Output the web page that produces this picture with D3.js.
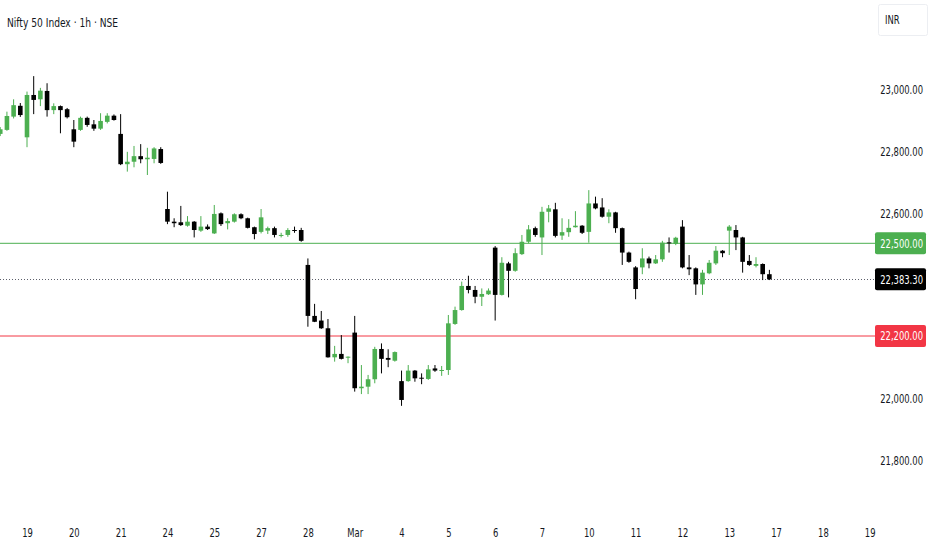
<!DOCTYPE html>
<html>
<head>
<meta charset="utf-8">
<script src="https://cdn.jsdelivr.net/npm/d3@7"></script>
<style>
  body { margin: 0; background: #fff; }
  svg text { font-family: "Liberation Sans Narrow", "Arial Narrow", "DejaVu Sans Condensed", "Liberation Sans", sans-serif; }
</style>
</head>
<body>
<div id="chart"></div>
<script>
// --- data: 1h candles, last 4 bars of 18 Feb then 7 bars per session ---
const open = [
  22854, 22867, 22910, 22945,                      // 18 Feb (tail)
  22843, 22980, 22966, 22993, 22931, 22944, 22934, // 19
  22869, 22867, 22906, 22885, 22871, 22893, 22913, // 20
  22854, 22756, 22764, 22782, 22772, 22773, 22805, // 21
  22611, 22570, 22568, 22557, 22570, 22541, 22554, // 24
  22532, 22597, 22565, 22570, 22594, 22581, 22552, // 25
  22537, 22541, 22549, 22524, 22527, 22543, 22543, // 27
  22430, 22265, 22250, 22225, 22131, 22142, 22131, // 28
  22211, 22031, 22036, 22060, 22158, 22129, 22120, // Mar 3
  22054, 22054, 22088, 22065, 22061, 22095, 22087, // 4
  22090, 22239, 22284, 22362, 22349, 22327, 22335, // 5
  22486, 22333, 22435, 22411, 22465, 22505, 22549, // 6
  22519, 22602, 22610, 22525, 22536, 22552, 22557, // 7
  22537, 22629, 22616, 22586, 22600, 22549, 22470, // 10
  22422, 22422, 22451, 22435, 22448, 22503, 22498, // 11
  22554, 22422, 22419, 22367, 22403, 22435, 22476, // 12
  22541, 22543, 22519, 22443, 22427, 22433, 22400  // 13
];
const high = [
  22876, 22926, 22966, 22954,
  22991, 23041, 23003, 23018, 22953, 22946, 22938,
  22899, 22910, 22910, 22899, 22921, 22921, 22917,
  22918, 22796, 22815, 22821, 22809, 22811, 22811,
  22667, 22581, 22621, 22588, 22572, 22588, 22561,
  22624, 22600, 22581, 22597, 22597, 22583, 22554,
  22611, 22554, 22554, 22534, 22549, 22554, 22550,
  22451, 22304, 22281, 22255, 22168, 22203, 22134,
  22265, 22106, 22074, 22165, 22176, 22157, 22150,
  22088, 22106, 22090, 22079, 22106, 22106, 22103,
  22268, 22295, 22376, 22395, 22362, 22354, 22354,
  22491, 22455, 22440, 22484, 22527, 22559, 22554,
  22618, 22624, 22631, 22581, 22578, 22604, 22559,
  22672, 22651, 22646, 22610, 22602, 22551, 22473,
  22426, 22484, 22457, 22462, 22508, 22519, 22521,
  22575, 22462, 22422, 22414, 22446, 22491, 22478,
  22559, 22559, 22521, 22462, 22455, 22435, 22414
];
const low = [
  22847, 22864, 22904, 22909,
  22811, 22918, 22944, 22910, 22918, 22856, 22904,
  22811, 22864, 22877, 22864, 22867, 22888, 22897,
  22753, 22732, 22746, 22759, 22721, 22759, 22757,
  22562, 22552, 22556, 22554, 22519, 22537, 22543,
  22530, 22556, 22545, 22567, 22578, 22548, 22513,
  22532, 22530, 22519, 22519, 22521, 22534, 22505,
  22230, 22245, 22223, 22130, 22117, 22124, 22112,
  22020, 22012, 22012, 22047, 22079, 22099, 22117,
  21974, 22052, 22052, 22044, 22058, 22084, 22071,
  22074, 22236, 22282, 22338, 22306, 22297, 22333,
  22250, 22331, 22325, 22408, 22462, 22500, 22521,
  22462, 22568, 22519, 22511, 22521, 22551, 22530,
  22502, 22610, 22583, 22565, 22534, 22430, 22437,
  22319, 22400, 22419, 22433, 22440, 22470, 22494,
  22419, 22397, 22333, 22333, 22400, 22430, 22455,
  22462, 22478, 22405, 22427, 22422, 22381, 22381
];
const close = [
  22869, 22912, 22947, 22915,
  22980, 22964, 22994, 22931, 22944, 22931, 22908,
  22829, 22906, 22883, 22871, 22896, 22913, 22899,
  22756, 22764, 22782, 22772, 22777, 22807, 22760,
  22570, 22565, 22559, 22570, 22543, 22554, 22546,
  22595, 22562, 22572, 22594, 22581, 22550, 22530,
  22584, 22549, 22527, 22527, 22543, 22540, 22508,
  22265, 22246, 22225, 22131, 22142, 22126, 22133,
  22031, 22036, 22060, 22158, 22126, 22123, 22148,
  21993, 22088, 22063, 22062, 22092, 22088, 22090,
  22241, 22284, 22362, 22349, 22327, 22336, 22347,
  22333, 22437, 22411, 22468, 22505, 22545, 22527,
  22602, 22613, 22524, 22536, 22550, 22557, 22534,
  22629, 22613, 22586, 22600, 22549, 22470, 22440,
  22352, 22451, 22435, 22448, 22502, 22500, 22518,
  22422, 22416, 22367, 22405, 22437, 22476, 22468,
  22554, 22519, 22440, 22430, 22433, 22400, 22383.3
];
const leadBars = 4;        // bars of 18 Feb visible before the first label
const barsPerDay = 7;
const dayLabels = ["19", "20", "21", "24", "25", "27", "28", "Mar", "4", "5", "6", "7",
                   "10", "11", "12", "13", "17", "18", "19"];
const priceTicks = [21800, 22000, 22600, 22800, 23000];
const upperLevel = 22500;
const lowerLevel = 22200;
const lastPrice = close[close.length - 1];

const width = 932, height = 550;
const green = "#4caf50", red = "#f23645", ink = "#131722";
const squeeze = 0.78;   // no narrow face installed, so scale text horizontally

const svg = d3.create("svg")
    .attr("width", width)
    .attr("height", height)
    .attr("viewBox", [0, 0, width, height]);

// bar index (0 = first bar of 19 Feb) -> pixel
const x = d3.scaleLinear()
    .domain([0, (dayLabels.length - 1) * barsPerDay])
    .range([27, 869.7]);
const y = d3.scaleLinear()
    .domain([21800, 23000])
    .range([459.6, 88.8]);

const bars = open.map((o, i) => ({
    k: i - leadBars, o, h: high[i], l: low[i], c: close[i]
}));
const bodyW = 4.6;

// --- level lines ---
const plot = svg.append("g");
plot.append("line")
    .attr("x1", 0).attr("x2", 875)
    .attr("y1", y(upperLevel)).attr("y2", y(upperLevel))
    .attr("stroke", green).attr("stroke-width", 1);
plot.append("line")
    .attr("x1", 0).attr("x2", 875)
    .attr("y1", y(lowerLevel)).attr("y2", y(lowerLevel))
    .attr("stroke", red).attr("stroke-width", 1);
plot.append("line")
    .attr("x1", 0).attr("x2", 875)
    .attr("y1", Math.round(y(lastPrice)) + 0.5).attr("y2", Math.round(y(lastPrice)) + 0.5)
    .attr("stroke", "#5d606b").attr("stroke-width", 1)
    .attr("stroke-dasharray", "1,2");

// --- candles ---
const candle = svg.append("g").selectAll("g")
    .data(bars)
    .join("g")
    .attr("fill", d => d.c >= d.o ? green : "#000")
    .attr("stroke", d => d.c >= d.o ? green : "#000");

candle.append("line")
    .attr("x1", d => x(d.k)).attr("x2", d => x(d.k))
    .attr("y1", d => y(d.h)).attr("y2", d => y(d.l))
    .attr("stroke-width", 1);

candle.append("rect")
    .attr("x", d => x(d.k) - bodyW / 2)
    .attr("width", bodyW)
    .attr("y", d => y(Math.max(d.o, d.c)))
    .attr("height", d => Math.max(1, y(Math.min(d.o, d.c)) - y(Math.max(d.o, d.c))))
    .attr("stroke", "none");

// --- right price axis ---
const yAxis = svg.append("g")
    .attr("transform", "translate(923,1)")
    .call(d3.axisRight(y).tickValues(priceTicks).tickSize(0).tickFormat(d3.format(",.2f")));
yAxis.select(".domain").remove();
yAxis.selectAll("text")
    .attr("x", 0)
    .attr("text-anchor", "end")
    .attr("transform", `scale(${squeeze},1)`)
    .attr("fill", ink)
    .style("font-size", "12px");

// --- bottom time axis ---
const xAxis = svg.append("g")
    .attr("transform", "translate(0,528)")
    .call(d3.axisBottom(x)
        .tickValues(dayLabels.map((_, i) => i * barsPerDay))
        .tickSize(0)
        .tickFormat((d, i) => dayLabels[i]));
xAxis.select(".domain").remove();
xAxis.selectAll("text")
    .attr("y", 0).attr("dy", "0.71em")
    .attr("transform", `scale(${squeeze},1)`)
    .attr("fill", ink)
    .style("font-size", "12px");

// --- price labels on the scale ---
const tags = [
    { v: upperLevel, bg: green },
    { v: lastPrice, bg: "#000" },
    { v: lowerLevel, bg: red }
];
const tag = svg.append("g").selectAll("g")
    .data(tags)
    .join("g")
    .attr("transform", d => `translate(875,${y(d.v)})`);
tag.append("rect")
    .attr("x", 0).attr("y", -11)
    .attr("width", 51).attr("height", 22)
    .attr("rx", 2)
    .attr("fill", d => d.bg);
tag.append("text")
    .attr("dy", "0.36em")
    .attr("text-anchor", "end")
    .attr("transform", `translate(48,0) scale(${squeeze},1)`)
    .attr("fill", "#fff")
    .style("font-size", "12px")
    .text(d => d3.format(",.2f")(d.v));

// --- header ---
svg.append("text")
    .attr("transform", `translate(7,27) scale(${squeeze},1)`)
    .attr("fill", ink)
    .style("font-size", "13px")
    .text("Nifty 50 Index · 1h · NSE");

svg.append("rect")
    .attr("x", 878.5).attr("y", 4.5)
    .attr("width", 49).attr("height", 31)
    .attr("rx", 2)
    .attr("fill", "#fff")
    .attr("stroke", "#eceef2");
svg.append("text")
    .attr("dy", "0.35em")
    .attr("transform", `translate(885,20) scale(${squeeze},1)`)
    .attr("fill", ink)
    .style("font-size", "12px")
    .text("INR");

document.getElementById("chart").append(svg.node());
</script>
</body>
</html>
